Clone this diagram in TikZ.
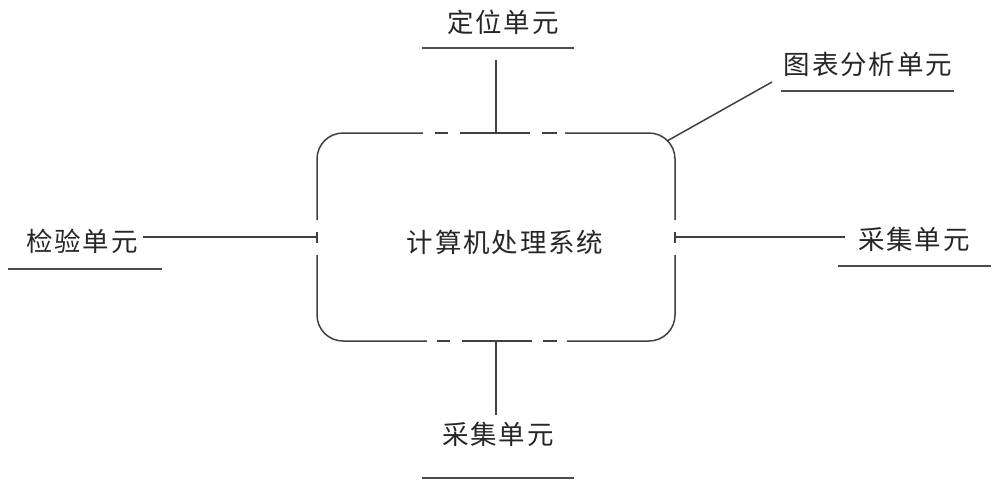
\documentclass[tikz,border=0pt]{standalone}
\usepackage{fontspec}
\setmainfont{Noto Sans CJK SC}[LetterSpace=7]
\begin{document}
\begin{tikzpicture}[x=1pt,y=-1pt,
  ln/.style={draw=black!75,line width=1.5pt},
  lbl/.style={inner sep=0pt,font=\fontsize{26.5}{29}\selectfont,text=black!85},
  ul/.style={draw=black!70,line width=1.6pt}]
\useasboundingbox (0,0) rectangle (1000,488);
% central system node
\node[lbl,minimum width=358pt,minimum height=208pt] (sys) at (496,237) {};
\node[lbl] (systext) at (505,242) {计算机处理系统};
% outline of the box with gaps
\draw[ln,rounded corners=26pt] (423,133) -- (317,133) -- (317,220);
\draw[ln] (435,133) -- (448,133);
\draw[ln] (460,133) -- (530,133);
\draw[ln] (542,133) -- (557,133);
\draw[ln,rounded corners=26pt] (565,133) -- (675,133) -- (675,220);
\draw[ln] (675,232) -- (675,243);
\draw[ln,rounded corners=26pt] (675,255) -- (675,341) -- (567,341);
\draw[ln] (557,341) -- (543,341);
\draw[ln] (532,341) -- (462,341);
\draw[ln] (450,341) -- (437,341);
\draw[ln,rounded corners=26pt] (427,341) -- (317,341) -- (317,255);
\draw[ln] (317,243) -- (317,232);
% labels
\node[lbl] (loc) at (503,22) {定位单元};
\draw[ul] (422,48) -- (574,48);
\node[lbl] (chart) at (868,64) {图表分析单元};
\draw[ul] (781,91) -- (954,91);
\node[lbl] (insp) at (82,241) {检验单元};
\draw[ul] (8,269) -- (162,269);
\node[lbl] (colr) at (914,239) {采集单元};
\draw[ul] (838,266) -- (991,266);
\node[lbl] (colb) at (498,434) {采集单元};
\draw[ul] (422,478) -- (574,478);
% connector endpoints
\coordinate (locend) at (496,60);
\coordinate (chartend) at (772,82);
\coordinate (corner) at (667,141);
\coordinate (inspend) at (143,237);
\coordinate (colrend) at (845,237);
\coordinate (colbend) at (496,415);
% connectors
\draw[ln] (locend) -- (sys.north);
\draw[ln] (chartend) -- (corner);
\draw[ln] (inspend) -- (sys.west);
\draw[ln] (sys.east) -- (colrend);
\draw[ln] (sys.south) -- (colbend);
\end{tikzpicture}
\end{document}
